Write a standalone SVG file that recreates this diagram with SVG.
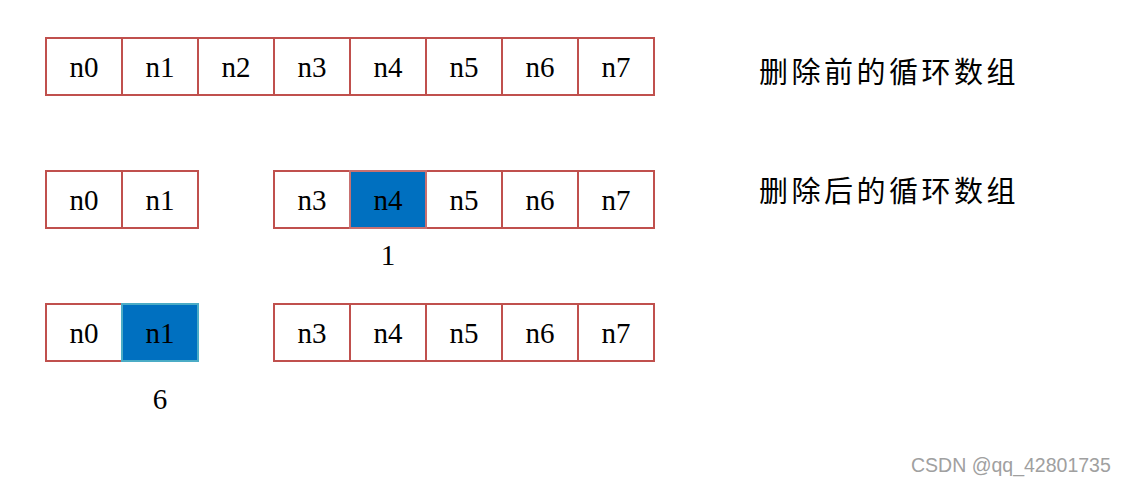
<svg xmlns="http://www.w3.org/2000/svg" width="1126" height="485" viewBox="0 0 1126 485">
<style>
.c{fill:#fff;stroke:#C0504D;stroke-width:2}
.b{fill:#0070C0;stroke:#C87070;stroke-width:2}
.b2{fill:#0070C0;stroke:#4BACC6;stroke-width:2}
.t{font-family:"Liberation Serif","DejaVu Serif",serif;font-size:29px;fill:#000;text-anchor:middle}
.z{font-family:"Noto Sans CJK SC",sans-serif;font-size:29px;letter-spacing:3.5px;fill:#000}
.w{font-family:"Liberation Sans",Arial,sans-serif;font-size:19.5px;fill:#a0a0a0}
</style>
<rect width="1126" height="485" fill="#fff"/>
<g id="row1">
<g id="r1n0"><rect class="c" x="46" y="38" width="76" height="57"/><text class="t" x="84" y="77">n0</text></g>
<g id="r1n1"><rect class="c" x="122" y="38" width="76" height="57"/><text class="t" x="160" y="77">n1</text></g>
<g id="r1n2"><rect class="c" x="198" y="38" width="76" height="57"/><text class="t" x="236" y="77">n2</text></g>
<g id="r1n3"><rect class="c" x="274" y="38" width="76" height="57"/><text class="t" x="312" y="77">n3</text></g>
<g id="r1n4"><rect class="c" x="350" y="38" width="76" height="57"/><text class="t" x="388" y="77">n4</text></g>
<g id="r1n5"><rect class="c" x="426" y="38" width="76" height="57"/><text class="t" x="464" y="77">n5</text></g>
<g id="r1n6"><rect class="c" x="502" y="38" width="76" height="57"/><text class="t" x="540" y="77">n6</text></g>
<g id="r1n7"><rect class="c" x="578" y="38" width="76" height="57"/><text class="t" x="616" y="77">n7</text></g>
</g>
<g id="row2">
<g id="r2n0"><rect class="c" x="46" y="171" width="76" height="57"/><text class="t" x="84" y="210">n0</text></g>
<g id="r2n1"><rect class="c" x="122" y="171" width="76" height="57"/><text class="t" x="160" y="210">n1</text></g>
<g id="r2n3"><rect class="c" x="274" y="171" width="76" height="57"/><text class="t" x="312" y="210">n3</text></g>
<g id="r2n5"><rect class="c" x="426" y="171" width="76" height="57"/><text class="t" x="464" y="210">n5</text></g>
<g id="r2n6"><rect class="c" x="502" y="171" width="76" height="57"/><text class="t" x="540" y="210">n6</text></g>
<g id="r2n7"><rect class="c" x="578" y="171" width="76" height="57"/><text class="t" x="616" y="210">n7</text></g>
<g id="r2n4"><rect class="b" x="350" y="171" width="76" height="57"/><text class="t" x="388" y="210">n4</text></g>
</g>
<g id="row3">
<g id="r3n0"><rect class="c" x="46" y="304" width="76" height="57"/><text class="t" x="84" y="343">n0</text></g>
<g id="r3n1"><rect class="b2" x="122" y="304" width="76" height="57"/><text class="t" x="160" y="343">n1</text></g>
<g id="r3n3"><rect class="c" x="274" y="304" width="76" height="57"/><text class="t" x="312" y="343">n3</text></g>
<g id="r3n4"><rect class="c" x="350" y="304" width="76" height="57"/><text class="t" x="388" y="343">n4</text></g>
<g id="r3n5"><rect class="c" x="426" y="304" width="76" height="57"/><text class="t" x="464" y="343">n5</text></g>
<g id="r3n6"><rect class="c" x="502" y="304" width="76" height="57"/><text class="t" x="540" y="343">n6</text></g>
<g id="r3n7"><rect class="c" x="578" y="304" width="76" height="57"/><text class="t" x="616" y="343">n7</text></g>
</g>
<g id="connectors"></g>
<g id="labels">
<text class="t" x="388" y="265">1</text>
<text class="t" x="160" y="409">6</text>
<text class="z" x="759" y="83">删除前的循环数组</text>
<text class="z" x="759" y="202">删除后的循环数组</text>
<text class="w" x="911" y="472">CSDN @qq_42801735</text>
</g>
</svg>
